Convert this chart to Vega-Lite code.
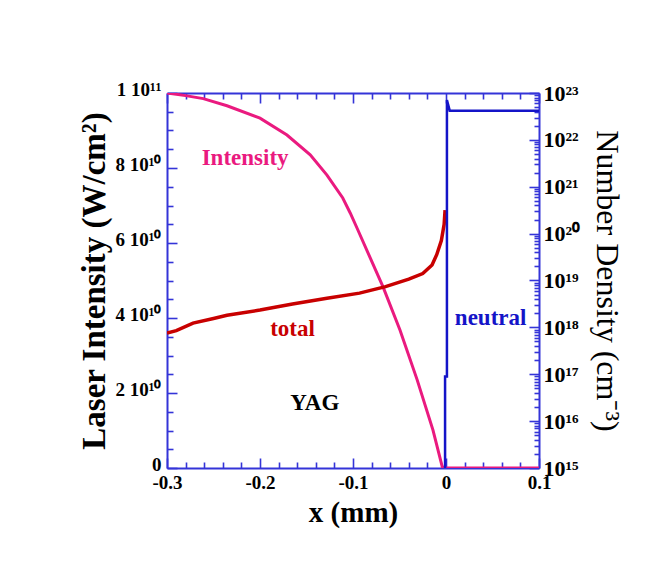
{
  "$schema": "https://vega.github.io/schema/vega-lite/v6.json",
  "autosize": "none",
  "width": 372,
  "height": 375,
  "padding": {"left": 167, "top": 93, "right": 120, "bottom": 111},
  "background": "white",
  "config": {
    "view": {"stroke": null},
    "font": "Liberation Serif",
    "axis": {
      "domainColor": "#3434d8",
      "domainWidth": 2,
      "tickColor": "#3434d8",
      "tickWidth": 1.6,
      "grid": false,
      "labelOverlap": false,
      "labelFont": "Liberation Serif",
      "labelFontWeight": "bold",
      "labelFontSize": 19,
      "labelColor": "black",
      "titleFont": "Liberation Serif",
      "titleColor": "black"
    }
  },
  "datasets": {
    "intensity": [
      {"x": -0.3, "v": 1.0e11},
      {"x": -0.28, "v": 0.993e11},
      {"x": -0.261, "v": 0.985e11},
      {"x": -0.2355, "v": 0.966e11},
      {"x": -0.2, "v": 0.933e11},
      {"x": -0.171, "v": 0.888e11},
      {"x": -0.146, "v": 0.835e11},
      {"x": -0.128, "v": 0.781e11},
      {"x": -0.111, "v": 0.72e11},
      {"x": -0.103, "v": 0.68e11},
      {"x": -0.0957, "v": 0.64e11},
      {"x": -0.0677, "v": 0.483e11},
      {"x": -0.0495, "v": 0.368e11},
      {"x": -0.031, "v": 0.235e11},
      {"x": -0.014, "v": 0.101e11},
      {"x": -0.004, "v": 0.003e11},
      {"x": 0.0, "v": 0},
      {"x": 0.1, "v": 0}
    ],
    "density": [
      {"s": "total", "i": 1, "x": -0.3, "n": 7.6e17},
      {"s": "total", "i": 2, "x": -0.29, "n": 8.5e17},
      {"s": "total", "i": 3, "x": -0.272, "n": 1.23e18},
      {"s": "total", "i": 4, "x": -0.25, "n": 1.55e18},
      {"s": "total", "i": 5, "x": -0.2355, "n": 1.82e18},
      {"s": "total", "i": 6, "x": -0.2, "n": 2.34e18},
      {"s": "total", "i": 7, "x": -0.165, "n": 3.16e18},
      {"s": "total", "i": 8, "x": -0.128, "n": 4.17e18},
      {"s": "total", "i": 9, "x": -0.093, "n": 5.37e18},
      {"s": "total", "i": 10, "x": -0.065, "n": 7.41e18},
      {"s": "total", "i": 11, "x": -0.04, "n": 1.07e19},
      {"s": "total", "i": 12, "x": -0.025, "n": 1.41e19},
      {"s": "total", "i": 13, "x": -0.015, "n": 2.14e19},
      {"s": "total", "i": 14, "x": -0.01, "n": 3.55e19},
      {"s": "total", "i": 15, "x": -0.005, "n": 7.08e19},
      {"s": "total", "i": 16, "x": -0.002, "n": 1.58e20},
      {"s": "total", "i": 17, "x": -0.001, "n": 3.16e20},
      {"s": "neutral", "i": 1, "x": -0.001, "n": 1e15},
      {"s": "neutral", "i": 2, "x": -0.001, "n": 8.9e16},
      {"s": "neutral", "i": 3, "x": 0.001, "n": 8.9e16},
      {"s": "neutral", "i": 4, "x": 0.001, "n": 7.1e22},
      {"s": "neutral", "i": 5, "x": 0.004, "n": 4.2e22},
      {"s": "neutral", "i": 6, "x": 0.1, "n": 4.2e22}
    ],
    "labels": [
      {"t": "Intensity", "x": -0.216, "v": 0.827e11, "c": "#ea1a7f"},
      {"t": "total", "x": -0.165, "v": 0.371e11, "c": "#c80000"},
      {"t": "neutral", "x": 0.048, "v": 0.4e11, "c": "#1414c8"},
      {"t": "YAG", "x": -0.141, "v": 0.173e11, "c": "black"}
    ]
  },
  "resolve": {"scale": {"y": "independent"}, "axis": {"x": "independent", "y": "independent"}},
  "layer": [
    {
      "data": {"name": "intensity"},
      "mark": {"type": "line", "color": "#ea1a7f", "strokeWidth": 3, "clip": true},
      "encoding": {
        "x": {
          "field": "x", "type": "quantitative",
          "scale": {"domain": [-0.3, 0.1], "nice": false, "zero": false},
          "axis": {
            "orient": "bottom",
            "labelOverlap": false,
            "labelFlush": false,
            "values": [-0.3,-0.28,-0.26,-0.24,-0.22,-0.2,-0.18,-0.16,-0.14,-0.12,-0.1,-0.08,-0.06,-0.04,-0.02,0,0.02,0.04,0.06,0.08,0.1],
            "labelExpr": "round(datum.value*100) % 10 == 0 ? (round(datum.value*10) == 0 ? '0' : (round(datum.value*10) < 0 ? '-' : '') + '0.' + abs(round(datum.value*10))) : ''",
            "tickSize": {"condition": {"test": "round(datum.value*100) % 10 == 0", "value": -10}, "value": -6},
            "labelPadding": 15,
            "title": "x (mm)",
            "titleFontSize": 29,
            "titleFontWeight": "bold",
            "titlePadding": 2
          }
        },
        "y": {
          "field": "v", "type": "quantitative",
          "scale": {"domain": [0, 1e11], "nice": false},
          "axis": {
            "orient": "left",
            "labelOverlap": false,
            "labelFlush": false,
            "labelOffset": -4,
            "values": [0,5e9,1e10,1.5e10,2e10,2.5e10,3e10,3.5e10,4e10,4.5e10,5e10,5.5e10,6e10,6.5e10,7e10,7.5e10,8e10,8.5e10,9e10,9.5e10,1e11],
            "labelExpr": "datum.value == 0 ? '0' : datum.value == 1e11 ? '1 10¹¹' : datum.value % 2e10 == 0 ? (datum.value/1e10) + ' 10¹⁰' : ''",
            "tickSize": {"condition": {"test": "datum.value % 2e10 == 0", "value": -10}, "value": -6},
            "labelPadding": 16,
            "title": "Laser Intensity (W/cm²)",
            "titleFontSize": 33,
            "titleFontWeight": "bold",
            "titlePadding": 4
          }
        }
      }
    },
    {
      "data": {"name": "density"},
      "mark": {"type": "line", "clip": true},
      "encoding": {
        "x": {
          "field": "x", "type": "quantitative",
          "scale": {"domain": [-0.3, 0.1], "nice": false, "zero": false},
          "axis": {
            "orient": "top",
            "values": [-0.3,-0.28,-0.26,-0.24,-0.22,-0.2,-0.18,-0.16,-0.14,-0.12,-0.1,-0.08,-0.06,-0.04,-0.02,0,0.02,0.04,0.06,0.08,0.1],
            "labels": false,
            "title": null,
            "tickSize": {"condition": {"test": "round(datum.value*100) % 10 == 0", "value": -10}, "value": -6}
          }
        },
        "y": {
          "field": "n", "type": "quantitative",
          "scale": {"type": "log", "domain": [1e15, 1e23], "nice": false},
          "axis": {
            "orient": "right",
            "labelOverlap": false,
            "labelFlush": false,
            "values": [1e15,2e15,3e15,4e15,5e15,6e15,7e15,8e15,9e15,1e16,2e16,3e16,4e16,5e16,6e16,7e16,8e16,9e16,1e17,2e17,3e17,4e17,5e17,6e17,7e17,8e17,9e17,1e18,2e18,3e18,4e18,5e18,6e18,7e18,8e18,9e18,1e19,2e19,3e19,4e19,5e19,6e19,7e19,8e19,9e19,1e20,2e20,3e20,4e20,5e20,6e20,7e20,8e20,9e20,1e21,2e21,3e21,4e21,5e21,6e21,7e21,8e21,9e21,1e22,2e22,3e22,4e22,5e22,6e22,7e22,8e22,9e22,1e23],
            "labelExpr": "abs(log(datum.value)/LN10 - round(log(datum.value)/LN10)) < 1e-6 ? '10' + ['⁰','¹','²','³','⁴','⁵','⁶','⁷','⁸','⁹'][floor(round(log(datum.value)/LN10)/10)] + ['⁰','¹','²','³','⁴','⁵','⁶','⁷','⁸','⁹'][round(log(datum.value)/LN10) % 10] : ''",
            "tickSize": {"condition": {"test": "abs(log(datum.value)/LN10 - round(log(datum.value)/LN10)) < 1e-6", "value": -10}, "value": -5},
            "labelPadding": 14,
            "labelFontSize": 22,
            "title": "Number Density (cm⁻³)",
            "titleFontSize": 32,
            "titleFontWeight": "normal",
            "titlePadding": 10
          }
        },
        "color": {"field": "s", "type": "nominal", "scale": {"domain": ["total", "neutral"], "range": ["#c80000", "#1414c8"]}, "legend": null},
        "strokeWidth": {"field": "s", "type": "nominal", "scale": {"domain": ["total", "neutral"], "range": [3.5, 2.5]}, "legend": null},
        "order": {"field": "i", "type": "quantitative"}
      }
    },
    {
      "data": {"name": "labels"},
      "mark": {"type": "text", "font": "Liberation Serif", "fontWeight": "bold", "fontSize": 23},
      "encoding": {
        "x": {"field": "x", "type": "quantitative", "scale": {"domain": [-0.3, 0.1], "nice": false, "zero": false}, "axis": null},
        "y": {"field": "v", "type": "quantitative", "scale": {"domain": [0, 1e11], "nice": false}, "axis": null},
        "text": {"field": "t"},
        "color": {"field": "c", "type": "nominal", "scale": null}
      }
    }
  ]
}
